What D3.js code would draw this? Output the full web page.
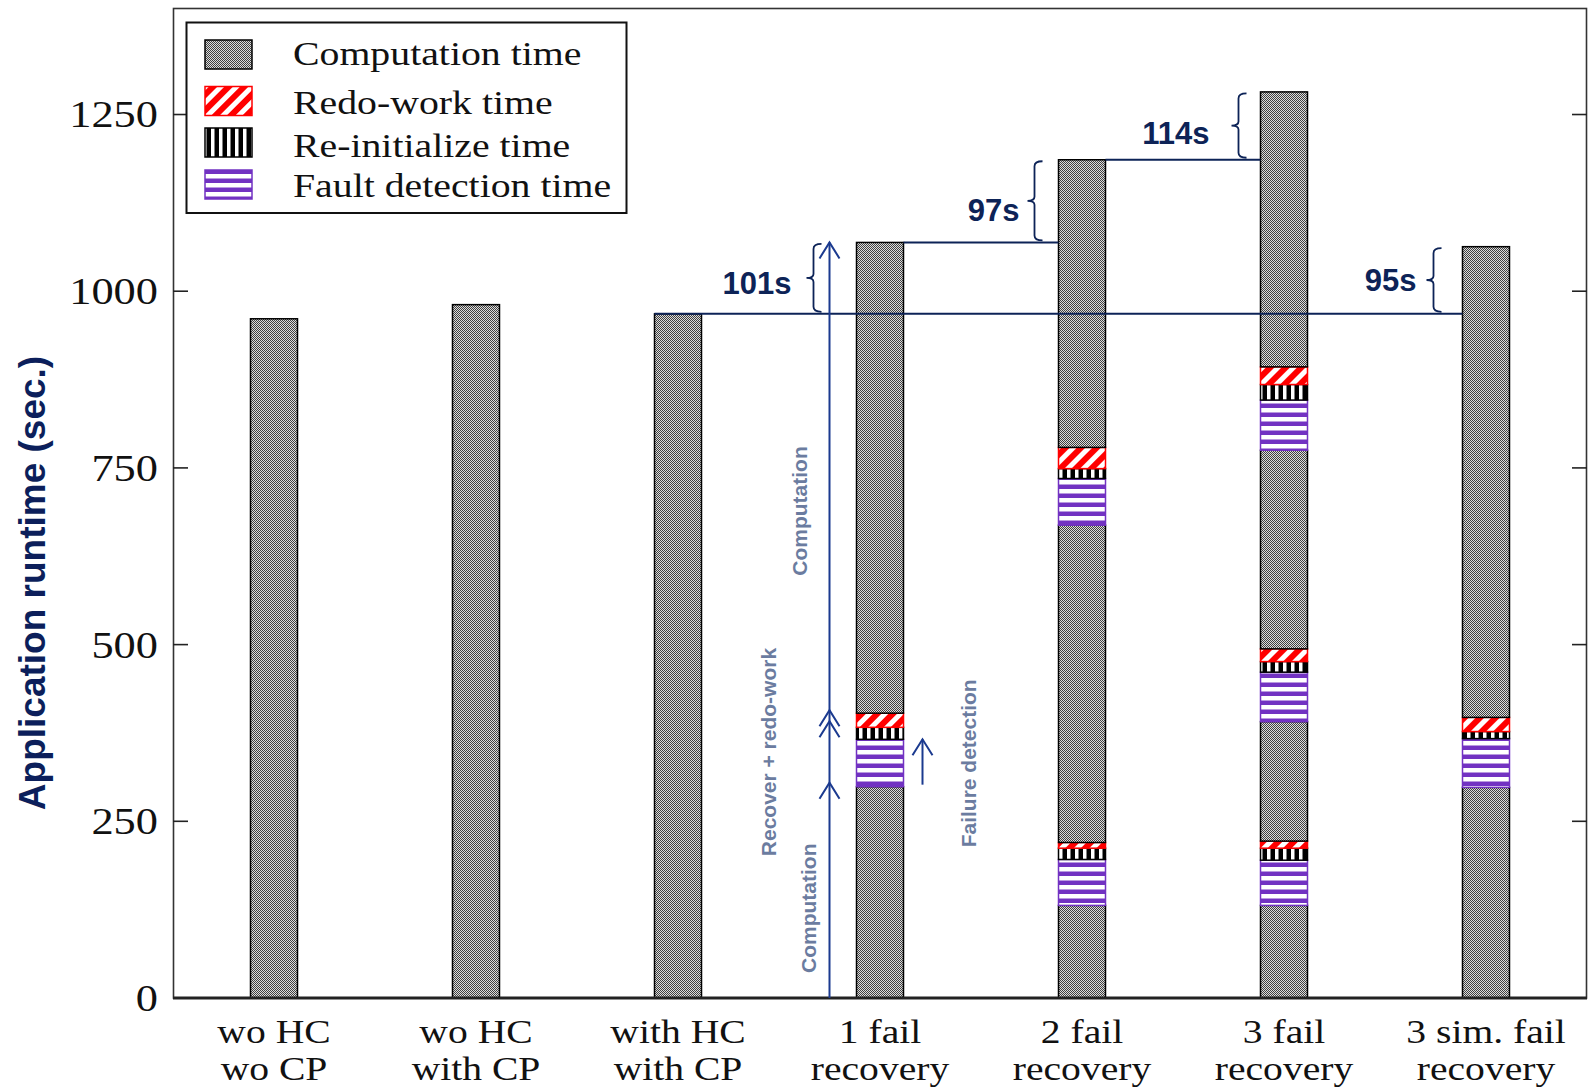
<!DOCTYPE html>
<html>
<head>
<meta charset="utf-8">
<script src="https://cdn.jsdelivr.net/npm/d3@7"></script>
<style>
  html, body { margin: 0; padding: 0; background: #fff; }
  svg { display: block; }
</style>
</head>
<body>
<svg id="chart" width="1589" height="1090"></svg>
<script>
// ---- data -------------------------------------------------------------
const categories = [
  ["wo HC", "wo CP"], ["wo HC", "with CP"], ["with HC", "with CP"],
  ["1 fail", "recovery"], ["2 fail", "recovery"], ["3 fail", "recovery"],
  ["3 sim. fail", "recovery"]
];
// computation chunks between failures (seconds), bottom to top
const computation    = [[961], [981], [968], [299, 666], [131, 449, 407], [131, 169, 281, 389], [298, 666]];
// per-failure recovery phases, in stacking order after each chunk
const faultDetection = [[], [], [], [67], [65, 66], [64, 70, 71], [69]];
const reinitialize   = [[], [], [], [17], [16, 14], [17, 15, 22], [10]];
const redoWork       = [[], [], [], [20], [8, 30], [10, 18, 25], [20]];

const yTicks = [0, 250, 500, 750, 1000, 1250];
const legendLabels = ["Computation time", "Redo-work time", "Re-initialize time", "Fault detection time"];

// overhead brackets between bar tops
const gapBrackets = [
  { from: 2, to: 3, label: "101s" },
  { from: 3, to: 4, label: "97s" },
  { from: 4, to: 5, label: "114s" },
  { from: 2, to: 6, label: "95s" }
];

// ---- layout -----------------------------------------------------------
const svg = d3.select("#chart");
const plotL = 173, plotR = 1587, plotT = 8.5, plotB = 998;
const barW = 47;
const serif = "'Liberation Serif', 'Times New Roman', serif";
const sans = "'Liberation Sans', Arial, sans-serif";
const navy = "#0d2357";
const arrowBlue = "#1b3a8f";
const noteGray = "#6b7ca0";
const purple = "#7232c2";

const x = d3.scalePoint().domain(d3.range(categories.length)).range([plotL, plotR]).padding(0.5);
const y = d3.scaleLinear().domain([0, 1400]).range([plotB, plotT]);

// ---- fill patterns ----------------------------------------------------
const defs = svg.append("defs");

const pComp = defs.append("pattern").attr("id", "pComp")
  .attr("patternUnits", "userSpaceOnUse").attr("width", 2).attr("height", 2);
pComp.append("rect").attr("width", 2).attr("height", 2).attr("fill", "#dcdcdc");
pComp.append("rect").attr("width", 1).attr("height", 1).attr("fill", "#404040");
pComp.append("rect").attr("x", 1).attr("y", 1).attr("width", 1).attr("height", 1).attr("fill", "#404040");

const pRedo = defs.append("pattern").attr("id", "pRedo")
  .attr("patternUnits", "userSpaceOnUse").attr("width", 11).attr("height", 11)
  .attr("patternTransform", "rotate(45)");
pRedo.append("rect").attr("width", 11).attr("height", 11).attr("fill", "#ff0000");
pRedo.append("rect").attr("x", 6).attr("width", 5).attr("height", 11).attr("fill", "#ffffff");

const pInit = defs.append("pattern").attr("id", "pInit")
  .attr("patternUnits", "userSpaceOnUse").attr("width", 8).attr("height", 8);
pInit.append("rect").attr("width", 8).attr("height", 8).attr("fill", "#000");
pInit.append("rect").attr("x", 3).attr("width", 3.5).attr("height", 8).attr("fill", "#fff");

const pFault = defs.append("pattern").attr("id", "pFault")
  .attr("patternUnits", "userSpaceOnUse").attr("width", 9).attr("height", 9);
pFault.append("rect").attr("width", 9).attr("height", 9).attr("fill", purple);
pFault.append("rect").attr("y", 3).attr("width", 9).attr("height", 4.5).attr("fill", "#fff");

const kinds = {
  comp:  { fill: "url(#pComp)",  stroke: "#000" },
  redo:  { fill: "url(#pRedo)",  stroke: "#ff0000" },
  init:  { fill: "url(#pInit)",  stroke: "#000" },
  fault: { fill: "url(#pFault)", stroke: purple }
};

// ---- stacked segments -------------------------------------------------
const segments = [];
const totals = [];
categories.forEach((c, i) => {
  let base = 0;
  const push = (kind, v) => { segments.push({ i, kind, y0: base, y1: base + v }); base += v; };
  computation[i].forEach((v, k) => {
    push("comp", v);
    if (k < faultDetection[i].length) {
      push("fault", faultDetection[i][k]);
      push("init", reinitialize[i][k]);
      push("redo", redoWork[i][k]);
    }
  });
  totals.push(base);
});

// ---- frame & ticks ----------------------------------------------------
svg.append("rect")
  .attr("x", plotL + 0.5).attr("y", plotT).attr("width", plotR - plotL - 1).attr("height", plotB - plotT)
  .attr("fill", "none").attr("stroke", "#333").attr("stroke-width", 1.6);

const tickG = svg.append("g").attr("stroke", "#222").attr("stroke-width", 1.6);
yTicks.forEach(t => {
  tickG.append("line").attr("x1", plotL).attr("x2", plotL + 15).attr("y1", y(t)).attr("y2", y(t));
  tickG.append("line").attr("x1", plotR - 15).attr("x2", plotR).attr("y1", y(t)).attr("y2", y(t));
});

// horizontally stretched serif text helper
function serifText(g, str, tx, ty, anchor, size, sx) {
  return g.append("text")
    .attr("transform", `translate(${tx},${ty}) scale(${sx},1)`)
    .attr("text-anchor", anchor)
    .attr("font-family", serif).attr("font-size", size).attr("fill", "#111")
    .text(str);
}

const tickLabels = svg.append("g");
yTicks.forEach(t => {
  serifText(tickLabels, String(t), 158, y(t), "end", 37, 1.2).attr("dy", "0.35em");
});

const xLabels = svg.append("g");
categories.forEach((c, i) => {
  serifText(xLabels, c[0], x(i), 1043, "middle", 33, 1.2);
  serifText(xLabels, c[1], x(i), 1080, "middle", 33, 1.2);
});

// ---- bars ---------------------------------------------------------------
svg.append("g").selectAll("rect").data(segments).join("rect")
  .attr("x", d => x(d.i) - barW / 2)
  .attr("width", barW)
  .attr("y", d => y(d.y1))
  .attr("height", d => y(d.y0) - y(d.y1))
  .attr("fill", d => kinds[d.kind].fill)
  .attr("stroke", d => kinds[d.kind].stroke)
  .attr("stroke-width", 1.5);

// bottom axis line
svg.append("line").attr("x1", plotL).attr("x2", plotR).attr("y1", plotB).attr("y2", plotB)
  .attr("stroke", "#222").attr("stroke-width", 3);

// ---- legend -------------------------------------------------------------
const leg = svg.append("g");
leg.append("rect").attr("x", 186.5).attr("y", 22.5).attr("width", 440).attr("height", 190.5)
  .attr("fill", "#fff").attr("stroke", "#111").attr("stroke-width", 2);
const legKinds = ["comp", "redo", "init", "fault"];
const rowTop = [40, 86.5, 128, 170];
const rowBase = [65, 114, 156.5, 196.5];
legendLabels.forEach((lab, k) => {
  leg.append("rect").attr("x", 205).attr("y", rowTop[k]).attr("width", 47).attr("height", 29)
    .attr("fill", kinds[legKinds[k]].fill).attr("stroke", kinds[legKinds[k]].stroke).attr("stroke-width", 1.5);
  serifText(leg, lab, 293, rowBase[k], "start", 34, 1.17);
});

// ---- overhead brackets ------------------------------------------------
const ann = svg.append("g");
const bracketDx = [-43, -24, -22, -29];
const labelGap = [22, 15, 29, 17];
const labelDy = [16, 20, 18, 11];

function brace(bx, y0, y1) {
  const ym = (y0 + y1) / 2;
  return `M${bx + 8},${y0} Q${bx},${y0} ${bx},${y0 + 5} L${bx},${ym - 4} Q${bx},${ym} ${bx - 7},${ym}` +
         ` Q${bx},${ym} ${bx},${ym + 4} L${bx},${y1 - 5} Q${bx},${y1} ${bx + 8},${y1}`;
}

// reference lines at bar tops
ann.append("line")
  .attr("x1", x(2) - barW / 2).attr("x2", x(6) - barW / 2)
  .attr("y1", y(totals[2])).attr("y2", y(totals[2]))
  .attr("stroke", navy).attr("stroke-width", 2);
[3, 4].forEach(i => {
  ann.append("line")
    .attr("x1", x(i) + barW / 2).attr("x2", x(i + 1) - barW / 2)
    .attr("y1", y(totals[i])).attr("y2", y(totals[i]))
    .attr("stroke", navy).attr("stroke-width", 2);
});

gapBrackets.forEach((b, k) => {
  const bx = x(b.to) - barW / 2 + bracketDx[k];
  const y0 = y(totals[b.to]) + 1.5, y1 = y(totals[b.from]) - 2;
  ann.append("path").attr("d", brace(bx, y0, y1))
    .attr("fill", "none").attr("stroke", navy).attr("stroke-width", 1.8);
  ann.append("text")
    .attr("x", bx - labelGap[k]).attr("y", (y0 + y1) / 2 + labelDy[k])
    .attr("text-anchor", "end")
    .attr("font-family", sans).attr("font-weight", "bold").attr("font-size", 31)
    .attr("fill", navy).text(b.label);
});

// ---- timeline arrows for the single-failure run -------------------------
function chevron(cx, tipY) {
  return `M${cx - 10},${tipY + 16} L${cx},${tipY} L${cx + 10},${tipY + 16}`;
}
const ax = x(3) - barW / 2 - 27;
const firstComp = computation[3][0];
const faultEnd = firstComp + faultDetection[3][0];
const redoEnd = faultEnd + reinitialize[3][0] + redoWork[3][0];

ann.append("line").attr("x1", ax).attr("x2", ax).attr("y1", y(0)).attr("y2", y(totals[3]))
  .attr("stroke", arrowBlue).attr("stroke-width", 2);
[y(totals[3]), y(redoEnd) - 3, y(redoEnd) + 8, y(firstComp) - 4].forEach(ty => {
  ann.append("path").attr("d", chevron(ax, ty))
    .attr("fill", "none").attr("stroke", arrowBlue).attr("stroke-width", 2);
});

const fx = x(3) + barW / 2 + 19;
ann.append("line").attr("x1", fx).attr("x2", fx).attr("y1", y(firstComp) - 2).attr("y2", y(faultEnd))
  .attr("stroke", arrowBlue).attr("stroke-width", 2);
ann.append("path").attr("d", chevron(fx, y(faultEnd)))
  .attr("fill", "none").attr("stroke", arrowBlue).attr("stroke-width", 2);

function vNote(str, cx, cyVal) {
  ann.append("text")
    .attr("transform", `translate(${cx},${y(cyVal)}) rotate(-90)`)
    .attr("text-anchor", "middle").attr("dy", "0.35em")
    .attr("font-family", sans).attr("font-weight", "bold").attr("font-size", 21)
    .attr("fill", noteGray).text(str);
}
vNote("Computation", ax - 21, 127);
vNote("Recover + redo-work", ax - 61, 348);
vNote("Computation", ax - 30, 689);
vNote("Failure detection", fx + 46, 332);

// ---- y axis title ---------------------------------------------------------
svg.append("text")
  .attr("transform", `translate(32,583) rotate(-90)`)
  .attr("text-anchor", "middle").attr("dy", "0.35em")
  .attr("font-family", sans).attr("font-weight", "bold").attr("font-size", 37)
  .attr("fill", "#0c1f5b")
  .text("Application runtime (sec.)");
</script>
</body>
</html>
